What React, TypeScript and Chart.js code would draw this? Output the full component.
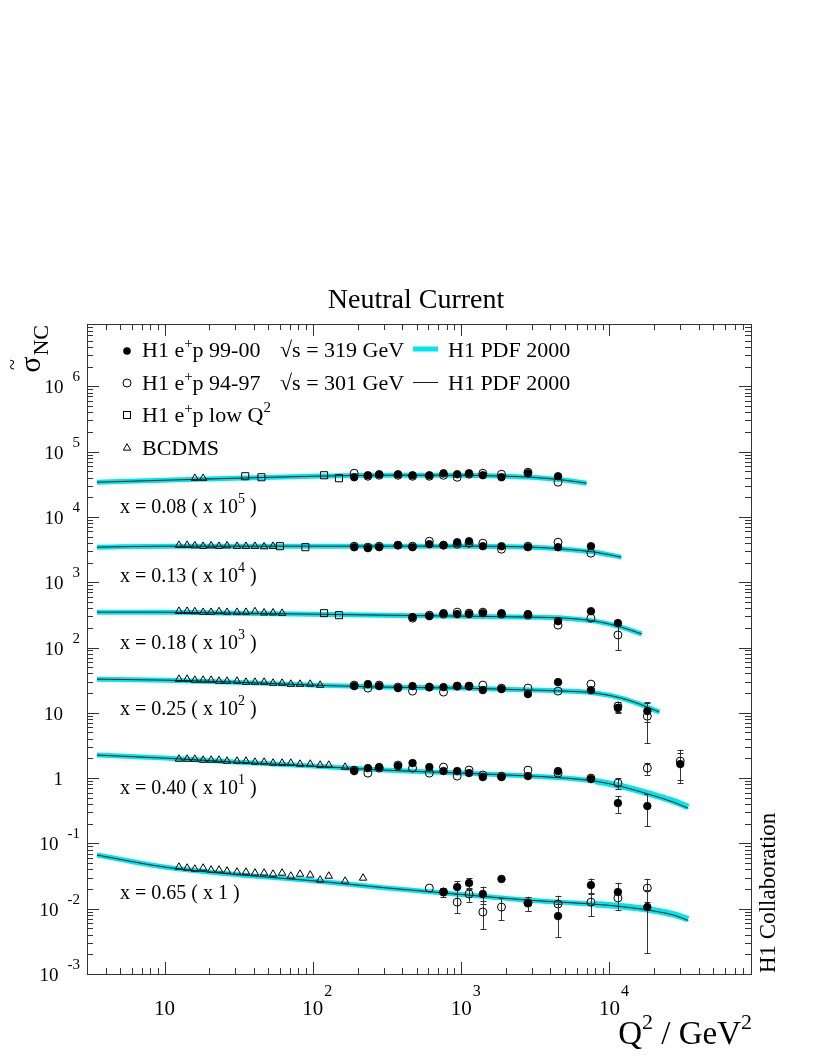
import React, { useEffect, useRef } from 'react';
import { Chart, registerables } from 'chart.js';

Chart.register(...registerables);

// ---------- axis ranges ----------
const X_MIN = 3;
const X_MAX = 90000;
const Y_MIN = 1e-3;
const Y_MAX = 9e6;

// ---------- rows (x bins) ----------
const ROW_X = ['0.08', '0.13', '0.18', '0.25', '0.40', '0.65'];
const ROW_EXP = [5, 4, 3, 2, 1, 0];

// ---------- H1 Q2 bins (GeV^2) ----------
const BIN_Q = [190, 235, 280, 375, 470, 610, 760, 940, 1130, 1400, 1870, 2820, 4500, 7500, 11400, 18000, 30000];

// H1 e+p 99-00 (filled) and 94-97 (open), reduced cross section (unscaled)
const FILLED_008 = [0.405, 0.4345, 0.45, 0.45, 0.4345, 0.4345, 0.466, 0.45, 0.466, 0.4345, 0.405, 0.466, 0.4195, null, null, null, null];
const FILLED_ERR_008 = [0.01, 0.01, 0.01, 0.01, 0.01, 0.01, 0.011, 0.011, 0.012, 0.012, 0.013, 0.014, 0.018, null, null, null, null];
const OPEN_008 = [0.466, 0.4195, 0.4345, 0.4345, 0.4195, 0.4195, 0.4345, 0.405, 0.45, 0.466, 0.45, 0.483, 0.34, null, null, null, null];
const OPEN_ERR_008 = [0.012, 0.012, 0.012, 0.012, 0.012, 0.012, 0.013, 0.013, 0.014, 0.015, 0.015, 0.017, 0.02, null, null, null, null];

const FILLED_013 = [0.3438, 0.332, 0.3438, 0.3688, 0.3438, 0.382, 0.3688, 0.4097, 0.4243, 0.356, 0.356, 0.3438, 0.3438, 0.356, null, null, null];
const FILLED_ERR_013 = [0.009, 0.009, 0.009, 0.009, 0.009, 0.01, 0.01, 0.011, 0.012, 0.011, 0.011, 0.012, 0.014, 0.025, null, null, null];
const OPEN_013 = [0.356, 0.3438, 0.356, 0.3688, 0.356, 0.4243, 0.3688, 0.382, 0.3956, 0.3956, 0.3205, 0.356, 0.4097, 0.2785, null, null, null];
const OPEN_ERR_013 = [0.01, 0.01, 0.01, 0.01, 0.01, 0.011, 0.011, 0.012, 0.013, 0.013, 0.013, 0.014, 0.016, 0.028, null, null, null];

const FILLED_018 = [null, null, null, null, 0.2916, 0.302, 0.3355, 0.324, 0.324, 0.3355, 0.3355, 0.324, 0.2534, 0.3599, 0.2363, null, null];
const FILLED_ERR_018 = [null, null, null, null, 0.008, 0.008, 0.009, 0.009, 0.009, 0.01, 0.01, 0.011, 0.013, 0.022, 0.03, null, null];
const OPEN_018 = [null, null, null, null, 0.2815, 0.3128, 0.324, 0.3475, 0.3355, 0.3475, 0.324, 0.3128, 0.2203, 0.2815, 0.1556, null, null];
const OPEN_ERR_018 = [null, null, null, null, 0.009, 0.009, 0.01, 0.01, 0.01, 0.011, 0.011, 0.012, 0.02, 0.025, 0.065, null, null];

const FILLED_025 = [0.2563, 0.2749, 0.2563, 0.2389, 0.2563, 0.2474, 0.2474, 0.2563, 0.2563, 0.2227, 0.2307, 0.1935, 0.295, 0.2227, 0.118, 0.1062, null];
const FILLED_ERR_025 = [0.007, 0.007, 0.007, 0.007, 0.007, 0.007, 0.008, 0.008, 0.009, 0.009, 0.009, 0.01, 0.015, 0.02, 0.02, 0.035, null];
const OPEN_025 = [0.2654, 0.2389, 0.2654, 0.2474, 0.215, 0.2474, 0.2076, 0.2563, 0.2563, 0.2654, 0.2389, 0.2389, 0.215, 0.2749, 0.1265, 0.0889, null];
const OPEN_ERR_025 = [0.008, 0.008, 0.008, 0.008, 0.008, 0.008, 0.009, 0.009, 0.01, 0.01, 0.01, 0.011, 0.016, 0.022, 0.022, 0.055, null];

const FILLED_040 = [0.128, 0.1423, 0.1474, 0.1527, 0.1697, 0.1474, 0.128, 0.128, 0.1193, 0.1036, 0.1036, 0.1073, 0.128, 0.0965, 0.0414, 0.0373, 0.1638];
const FILLED_ERR_040 = [0.004, 0.004, 0.005, 0.005, 0.006, 0.006, 0.006, 0.007, 0.008, 0.008, 0.008, 0.008, 0.01, 0.012, 0.012, 0.019, 0.08];
const OPEN_040 = [0.1326, 0.1193, 0.1423, 0.1582, 0.1423, 0.1193, 0.1474, 0.1073, 0.1326, 0.1112, 0.1073, 0.1326, 0.1193, 0.1, 0.0838, 0.1423, 0.1821];
const OPEN_ERR_040 = [0.005, 0.005, 0.005, 0.006, 0.006, 0.007, 0.007, 0.008, 0.008, 0.008, 0.008, 0.009, 0.01, 0.012, 0.015, 0.03, 0.09];

const FILLED_065 = [null, null, null, null, null, null, 0.018, 0.0215, 0.0247, 0.0168, 0.0285, 0.0122, 0.0077, 0.023, 0.018, 0.0106, null];
const FILLED_ERR_065 = [null, null, null, null, null, null, 0.0025, 0.005, 0.005, 0.005, 0.004, 0.003, 0.004, 0.006, 0.007, 0.0085, null];
const OPEN_065 = [null, null, null, null, null, 0.0207, 0.018, 0.0126, 0.0168, 0.0089, 0.0106, 0.0122, 0.0118, 0.0126, 0.0146, 0.0207, null];
const OPEN_ERR_065 = [null, null, null, null, null, 0.003, 0.003, 0.004, 0.004, 0.004, 0.004, 0.003, 0.004, 0.005, 0.005, 0.008, null];

// ---------- H1 e+p low Q2 (open squares) ----------
const LOWQ_Q_008 = [35, 45, 119, 150];
const LOWQ_008 = [0.4195, 0.405, 0.4345, 0.391];
const LOWQ_Q_013 = [60, 89];
const LOWQ_013 = [0.356, 0.3438];
const LOWQ_Q_018 = [119, 150];
const LOWQ_018 = [0.3355, 0.3128];

// ---------- BCDMS (open triangles) ----------
const BCDMS_Q = [12.5, 14.2, 16, 18.2, 20.6, 23.3, 26.4, 30.8, 35.4, 40.7, 46.9, 53.9, 62, 71, 82, 96, 112, 128, 165, 218];
const BCDMS_008 = [null, null, 0.391, 0.391, null, null, null, null, null, null, null, null, null, null, null, null, null, null, null, null];
const BCDMS_013 = [0.369, 0.369, 0.362, 0.356, 0.362, 0.356, 0.362, 0.356, 0.356, 0.356, 0.35, 0.356, null, null, null, null, null, null, null, null];
const BCDMS_018 = [0.36, 0.36, 0.355, 0.347, 0.347, 0.355, 0.347, 0.3475, 0.3475, 0.355, 0.34, 0.34, 0.3355, null, null, null, null, null, null, null];
const BCDMS_025 = [0.3277, 0.3277, 0.3164, 0.3164, 0.3164, 0.3055, 0.3055, 0.3055, 0.295, 0.295, 0.295, 0.2848, 0.2848, 0.2749, 0.2749, 0.2749, 0.2654, null, null, null];
const BCDMS_040 = [0.1954, 0.1954, 0.1954, 0.1886, 0.1886, 0.1886, 0.1821, 0.1821, 0.1821, 0.1758, 0.1758, 0.1697, 0.1697, 0.1697, 0.1638, 0.1638, 0.1582, 0.1582, 0.1474, null];
const BCDMS_065 = [0.0434, 0.0419, 0.0405, 0.0419, 0.0391, 0.0391, 0.0377, 0.0364, 0.0364, 0.0352, 0.0352, 0.0339, 0.0352, 0.0316, 0.0339, 0.0328, 0.0275, 0.0316, 0.0265, 0.0295];

// ---------- H1 PDF 2000 fit curves (sqrt s = 319 GeV band centre) ----------
const CURVE_Q_008 = [3.5, 10, 30, 100, 300, 1000, 2000, 3000, 5000, 7000];
const CURVE_008 = [0.34, 0.3645, 0.391, 0.4195, 0.4345, 0.4345, 0.4195, 0.405, 0.3645, 0.328];
const CURVE_Q_013 = [3.5, 10, 30, 100, 300, 1000, 3000, 5000, 8000, 12000];
const CURVE_013 = [0.3438, 0.356, 0.356, 0.356, 0.356, 0.356, 0.3438, 0.3205, 0.2884, 0.2416];
const CURVE_Q_018 = [3.5, 10, 30, 100, 300, 1000, 3000, 5000, 8000, 12000, 16500];
const CURVE_018 = [0.3475, 0.3475, 0.3355, 0.324, 0.3128, 0.302, 0.2916, 0.2815, 0.2534, 0.2053, 0.1611];
const CURVE_Q_025 = [3.5, 10, 30, 100, 300, 1000, 3000, 5000, 8000, 12000, 16000, 21700];
const CURVE_025 = [0.3277, 0.3164, 0.295, 0.2654, 0.2474, 0.2389, 0.2227, 0.215, 0.2004, 0.168, 0.1358, 0.1024];
const CURVE_Q_040 = [3.5, 10, 30, 100, 300, 1000, 3000, 5000, 8000, 12000, 20000, 27000, 34000];
const CURVE_040 = [0.2249, 0.2024, 0.1758, 0.1527, 0.1326, 0.1193, 0.1073, 0.1, 0.09, 0.0754, 0.0549, 0.0444, 0.036];
const CURVE_Q_065 = [3.5, 10, 30, 100, 300, 1000, 3000, 5000, 8000, 12000, 20000, 27000, 34000];
const CURVE_065 = [0.0663, 0.0434, 0.0334, 0.0268, 0.021, 0.0165, 0.0134, 0.0125, 0.0117, 0.0109, 0.0094, 0.0082, 0.0069];

// ---------- H1 PDF 2000 (sqrt s = 301 GeV) thin line, high-Q2 ends ----------
const THIN_END_040 = [0.0745, 0.0535, 0.0428, 0.0345];
const THIN_END_065 = [0.0108, 0.0092, 0.008, 0.0066];

// ---------- tick labels ----------
const X_LABEL_EXP = [1, 2, 3, 4];
const Y_LABEL_EXP = [-3, -2, -1, 0, 1, 2, 3, 4, 5, 6];

const FONT = '"Liberation Serif", "Times New Roman", Times, serif';
const CYAN = '#00e6ef';

type Row = {
  filled: (number | null)[]; filledErr: (number | null)[];
  open: (number | null)[]; openErr: (number | null)[];
  cq: number[]; cv: number[]; thinEnd: number[];
  lq: number[]; lv: number[];
  bc: (number | null)[];
};

const ROWS: Row[] = [
  { filled: FILLED_008, filledErr: FILLED_ERR_008, open: OPEN_008, openErr: OPEN_ERR_008, cq: CURVE_Q_008, cv: CURVE_008, thinEnd: [], lq: LOWQ_Q_008, lv: LOWQ_008, bc: BCDMS_008 },
  { filled: FILLED_013, filledErr: FILLED_ERR_013, open: OPEN_013, openErr: OPEN_ERR_013, cq: CURVE_Q_013, cv: CURVE_013, thinEnd: [], lq: LOWQ_Q_013, lv: LOWQ_013, bc: BCDMS_013 },
  { filled: FILLED_018, filledErr: FILLED_ERR_018, open: OPEN_018, openErr: OPEN_ERR_018, cq: CURVE_Q_018, cv: CURVE_018, thinEnd: [], lq: LOWQ_Q_018, lv: LOWQ_018, bc: BCDMS_018 },
  { filled: FILLED_025, filledErr: FILLED_ERR_025, open: OPEN_025, openErr: OPEN_ERR_025, cq: CURVE_Q_025, cv: CURVE_025, thinEnd: [], lq: [], lv: [], bc: BCDMS_025 },
  { filled: FILLED_040, filledErr: FILLED_ERR_040, open: OPEN_040, openErr: OPEN_ERR_040, cq: CURVE_Q_040, cv: CURVE_040, thinEnd: THIN_END_040, lq: [], lv: [], bc: BCDMS_040 },
  { filled: FILLED_065, filledErr: FILLED_ERR_065, open: OPEN_065, openErr: OPEN_ERR_065, cq: CURVE_Q_065, cv: CURVE_065, thinEnd: THIN_END_065, lq: [], lv: [], bc: BCDMS_065 },
];

function pointsWithErr(qs: number[], vals: (number | null)[], errs: (number | null)[] | null, scale: number) {
  const data: { x: number; y: number }[] = [];
  const e: number[] = [];
  qs.forEach((q, i) => {
    const v = vals[i];
    if (v == null) return;
    data.push({ x: q, y: v * scale });
    e.push(errs && errs[i] != null ? (errs[i] as number) * scale : 0);
  });
  return { data, e };
}

function buildDatasets() {
  const sets: any[] = [];
  ROWS.forEach((r, k) => {
    const s = Math.pow(10, ROW_EXP[k]);
    const f = pointsWithErr(BIN_Q, r.filled, r.filledErr, s);
    const o = pointsWithErr(BIN_Q, r.open, r.openErr, s);
    const b = pointsWithErr(BCDMS_Q, r.bc, null, s);
    const l = pointsWithErr(r.lq, r.lv, null, s);
    const c = pointsWithErr(r.cq, r.cv, null, s);
    const thinVals = r.thinEnd.length ? r.cv.slice(0, r.cv.length - r.thinEnd.length).concat(r.thinEnd) : r.cv;
    const t = pointsWithErr(r.cq, thinVals, null, s);
    const wide = k >= 4;
    sets.push({
      label: 'H1 e+p 99-00 x=' + ROW_X[k], data: f.data, errs: f.e, order: 0, showLine: false,
      pointStyle: 'circle', pointRadius: 3.8, pointBackgroundColor: '#000', pointBorderColor: '#000', pointBorderWidth: 0.8,
    });
    sets.push({
      label: 'H1 e+p 94-97 x=' + ROW_X[k], data: o.data, errs: o.e, order: 1, showLine: false,
      pointStyle: 'circle', pointRadius: 4, pointBackgroundColor: 'rgba(0,0,0,0)', pointBorderColor: '#000', pointBorderWidth: 1,
    });
    if (l.data.length) sets.push({
      label: 'H1 e+p low Q2 x=' + ROW_X[k], data: l.data, order: 2, showLine: false,
      pointStyle: 'rect', pointRadius: 5, pointBackgroundColor: 'rgba(0,0,0,0)', pointBorderColor: '#000', pointBorderWidth: 1,
    });
    sets.push({
      label: 'BCDMS x=' + ROW_X[k], data: b.data, order: 3, showLine: false,
      pointStyle: 'triangle', pointRadius: 4.3, pointBackgroundColor: 'rgba(0,0,0,0)', pointBorderColor: '#000', pointBorderWidth: 1,
    });
    sets.push({
      label: 'H1 PDF 2000 (301) x=' + ROW_X[k], data: t.data, order: 4, showLine: true, pointRadius: 0,
      borderColor: '#1a1a1a', borderWidth: 1, cubicInterpolationMode: 'monotone', fill: false,
    });
    sets.push({
      label: 'H1 PDF 2000 (319) x=' + ROW_X[k], data: c.data, order: 5, showLine: true, pointRadius: 0,
      borderColor: CYAN, borderWidth: 5, cubicInterpolationMode: 'monotone', fill: false,
      segment: wide ? { borderWidth: (ctx: any) => (ctx.p1.parsed.x > 9000 ? 6.5 : 5) } : undefined,
    });
  });
  return sets;
}

function rich(ctx: CanvasRenderingContext2D, x: number, y: number, parts: [string, number, number][], align: 'left' | 'right' | 'center' = 'left') {
  let total = 0;
  for (const [t, s] of parts) {
    ctx.font = `${s}px ${FONT}`;
    total += ctx.measureText(t).width;
  }
  let cx = align === 'left' ? x : align === 'right' ? x - total : x - total / 2;
  ctx.textAlign = 'left';
  ctx.textBaseline = 'alphabetic';
  for (const [t, s, dy] of parts) {
    ctx.font = `${s}px ${FONT}`;
    ctx.fillText(t, cx, y + dy);
    cx += ctx.measureText(t).width;
  }
  return total;
}

const errorBars = {
  id: 'errorBars',
  beforeDatasetDraw(chart: any, args: any) {
    const ds = chart.data.datasets[args.index];
    if (!ds.errs) return;
    const xs = chart.scales.x;
    const ys = chart.scales.y;
    const ctx = chart.ctx as CanvasRenderingContext2D;
    ctx.save();
    ctx.strokeStyle = '#333';
    ctx.lineWidth = 1;
    ds.data.forEach((p: any, i: number) => {
      const e = ds.errs[i];
      if (!e) return;
      const px = Math.round(xs.getPixelForValue(p.x)) + 0.5;
      const top = ys.getPixelForValue(p.y + e);
      const bot = ys.getPixelForValue(Math.max(p.y - e, Y_MIN));
      if (bot - top < 9) return;
      ctx.beginPath();
      ctx.moveTo(px, top);
      ctx.lineTo(px, bot);
      ctx.moveTo(px - 3, Math.round(top) + 0.5);
      ctx.lineTo(px + 3, Math.round(top) + 0.5);
      ctx.moveTo(px - 3, Math.round(bot) + 0.5);
      ctx.lineTo(px + 3, Math.round(bot) + 0.5);
      ctx.stroke();
    });
    ctx.restore();
  },
};

const decor = {
  id: 'decor',
  afterDraw(chart: any) {
    const ctx = chart.ctx as CanvasRenderingContext2D;
    const xs = chart.scales.x;
    const ys = chart.scales.y;
    const { left, right, top, bottom } = chart.chartArea;
    ctx.save();
    // frame
    ctx.strokeStyle = '#333';
    ctx.lineWidth = 1;
    ctx.strokeRect(Math.round(left) + 0.5, Math.round(top) + 0.5, Math.round(right - left), Math.round(bottom - top));
    // ticks
    ctx.beginPath();
    for (let d = 0; d <= 5; d++) {
      for (let m = 1; m <= 9; m++) {
        const v = m * Math.pow(10, d);
        if (v <= X_MIN || v >= X_MAX) continue;
        const px = Math.round(xs.getPixelForValue(v)) + 0.5;
        const len = m === 1 ? 12 : 6;
        ctx.moveTo(px, bottom); ctx.lineTo(px, bottom - len);
        ctx.moveTo(px, top); ctx.lineTo(px, top + len);
      }
    }
    for (let d = -3; d <= 7; d++) {
      for (let m = 1; m <= 9; m++) {
        const v = m * Math.pow(10, d);
        if (v < Y_MIN * 0.999 || v >= Y_MAX) continue;
        const py = Math.round(ys.getPixelForValue(v)) + 0.5;
        const len = m === 1 ? 12 : 6;
        ctx.moveTo(left, py); ctx.lineTo(left + len, py);
        ctx.moveTo(right, py); ctx.lineTo(right - len, py);
      }
    }
    ctx.stroke();

    ctx.fillStyle = '#000';
    // x tick labels
    X_LABEL_EXP.forEach((d) => {
      const px = xs.getPixelForValue(Math.pow(10, d));
      ctx.font = `21px ${FONT}`;
      ctx.textAlign = 'center';
      ctx.textBaseline = 'alphabetic';
      ctx.fillText('10', px, 1015);
      const w = ctx.measureText('10').width;
      if (d > 1) {
        ctx.font = `16px ${FONT}`;
        ctx.textAlign = 'left';
        ctx.fillText(String(d), px + w / 2 + 1, 996);
      }
    });
    // y tick labels
    Y_LABEL_EXP.forEach((d) => {
      const py = ys.getPixelForValue(Math.pow(10, d));
      ctx.textBaseline = 'alphabetic';
      if (d === 0 || d === 1) {
        ctx.font = `19px ${FONT}`;
        ctx.textAlign = 'right';
        ctx.fillText(d === 0 ? '1' : '10', 63, py + 7);
      } else {
        const ex = String(d);
        ctx.font = `15px ${FONT}`;
        ctx.textAlign = 'right';
        ctx.fillText(ex, 80, py - 5);
        const ew = ctx.measureText(ex).width;
        ctx.font = `19px ${FONT}`;
        ctx.fillText('10', 80 - ew - 9, py + 7);
      }
    });

    // title
    ctx.font = `28px ${FONT}`;
    ctx.textAlign = 'center';
    ctx.fillText('Neutral Current', 416, 308);

    // x title
    rich(ctx, 752, 1044, [['Q', 33, 0], ['2', 22, -15], [' / GeV', 33, 0], ['2', 22, -15]], 'right');

    // y title (rotated)
    ctx.save();
    ctx.translate(40, 325);
    ctx.rotate(-Math.PI / 2);
    ctx.font = `22px ${FONT}`;
    ctx.textAlign = 'right';
    ctx.fillText('NC', 0, 8);
    const ncw = ctx.measureText('NC').width;
    ctx.font = `30px ${FONT}`;
    ctx.fillText('\u03c3', -ncw - 1, 0);
    const sw = ctx.measureText('\u03c3').width;
    ctx.font = `20px ${FONT}`;
    ctx.textAlign = 'center';
    ctx.fillText('~', -ncw - 1 - sw / 2, -21);
    ctx.restore();

    // H1 Collaboration
    ctx.save();
    ctx.translate(775, 973);
    ctx.rotate(-Math.PI / 2);
    ctx.font = `23px ${FONT}`;
    ctx.textAlign = 'left';
    ctx.fillText('H1 Collaboration', 0, 0);
    ctx.restore();

    // legend
    const mx = 127;
    ctx.fillStyle = '#000';
    ctx.strokeStyle = '#000';
    ctx.lineWidth = 1;
    ctx.beginPath(); ctx.arc(mx, 351, 3.8, 0, Math.PI * 2); ctx.fill();
    ctx.beginPath(); ctx.arc(mx, 383, 4, 0, Math.PI * 2); ctx.stroke();
    ctx.strokeRect(mx - 3.5, 415 - 3.5, 7, 7);
    ctx.beginPath();
    ctx.moveTo(mx, 448 - 4.3); ctx.lineTo(mx + 3.7, 448 + 2.15); ctx.lineTo(mx - 3.7, 448 + 2.15); ctx.closePath(); ctx.stroke();

    rich(ctx, 142, 357, [['H1 e', 22, 0], ['+', 15, -9], ['p 99-00', 22, 0]]);
    rich(ctx, 142, 390, [['H1 e', 22, 0], ['+', 15, -9], ['p 94-97', 22, 0]]);
    rich(ctx, 142, 422, [['H1 e', 22, 0], ['+', 15, -9], ['p low Q', 22, 0], ['2', 15, -10]]);
    rich(ctx, 142, 455, [['BCDMS', 22, 0]]);
    rich(ctx, 280, 357, [['\u221as = 319 GeV', 22, 0]]);
    rich(ctx, 280, 390, [['\u221as = 301 GeV', 22, 0]]);
    ctx.fillStyle = CYAN;
    ctx.fillRect(413, 346.5, 25, 5);
    ctx.fillStyle = '#000';
    ctx.strokeStyle = '#1a1a1a';
    ctx.beginPath(); ctx.moveTo(413, 382.5); ctx.lineTo(438, 382.5); ctx.stroke();
    rich(ctx, 448, 357, [['H1 PDF 2000', 22, 0]]);
    rich(ctx, 448, 390, [['H1 PDF 2000', 22, 0]]);

    // row labels
    const rowBase = [513, 582, 649, 715, 794, 899];
    ROW_X.forEach((xv, k) => {
      const e = ROW_EXP[k];
      if (e === 0) {
        rich(ctx, 120, rowBase[k], [['x = ' + xv + ' ( x 1 )', 20, 0]]);
      } else {
        rich(ctx, 120, rowBase[k], [['x = ' + xv + ' ( x 10', 20, 0], [String(e), 14, -10], [' )', 20, 0]]);
      }
    });
    ctx.restore();
  },
};

export default function App() {
  const ref = useRef<HTMLCanvasElement>(null);
  useEffect(() => {
    if (!ref.current) return;
    const chart = new Chart(ref.current, {
      type: 'scatter',
      data: { datasets: buildDatasets() },
      options: {
        animation: false,
        responsive: false,
        devicePixelRatio: 1,
        events: [],
        layout: { padding: { left: 87, right: 66, top: 324, bottom: 84 } },
        plugins: { legend: { display: false }, tooltip: { enabled: false }, title: { display: false } },
        scales: {
          x: { type: 'logarithmic', min: X_MIN, max: X_MAX, display: false },
          y: { type: 'logarithmic', min: Y_MIN, max: Y_MAX, display: false },
        },
      } as any,
      plugins: [errorBars, decor],
    });
    return () => chart.destroy();
  }, []);
  return (
    <div style={{ position: 'absolute', left: 0, top: 0, width: 817, height: 1058, background: '#fff' }}>
      <canvas ref={ref} width={817} height={1058} style={{ display: 'block' }} />
    </div>
  );
}
